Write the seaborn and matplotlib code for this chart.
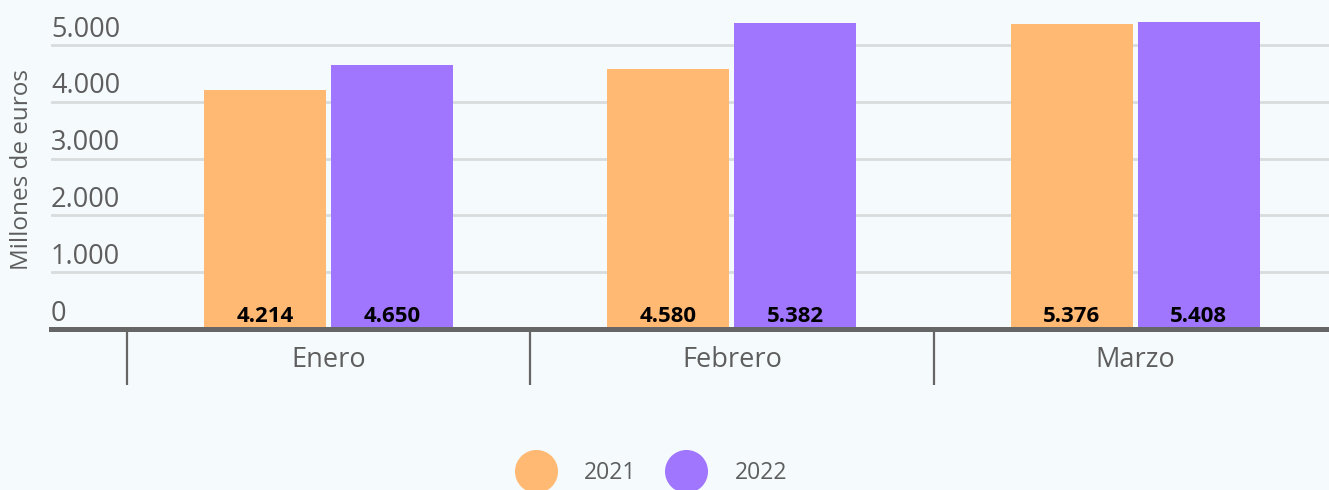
import numpy as np
import pandas as pd
import matplotlib
matplotlib.use("Agg")
import matplotlib.pyplot as plt
from matplotlib.lines import Line2D
import seaborn as sns

# data
meses = ["Enero", "Febrero", "Marzo"]
anios = ["2021", "2022"]
valores_2021 = [4214, 4580, 5376]
valores_2022 = [4650, 5382, 5408]
yticks = [0, 1000, 2000, 3000, 4000, 5000]

colores = ["#FFB973", "#A076FF"]
bg = "#F5FAFD"
gris = "#5E5E5E"


def fmt(v):
    return f"{v:,.0f}".replace(",", ".")


df = pd.DataFrame({
    "mes": meses * 2,
    "anio": [anios[0]] * 3 + [anios[1]] * 3,
    "valor": valores_2021 + valores_2022,
})

sns.set_style("white")
plt.rcParams["font.family"] = ["Open Sans", "DejaVu Sans"]

fig = plt.figure(figsize=(13.29, 4.90), dpi=100, facecolor=bg)
ax = fig.add_axes([51 / 1329, (490 - 329) / 490, 1 - 51 / 1329, 329 / 490])
ax.set_facecolor(bg)

sns.barplot(data=df, x="mes", y="valor", hue="anio", palette=colores,
            width=0.63, gap=0.04, saturation=1, linewidth=0,
            legend=False, ax=ax, zorder=3)

ax.set_xlim(-0.689, 2.481)
ax.set_ylim(0, 5792)

# gridlines and y labels
for t in yticks:
    if t > 0:
        ax.axhline(t, color="#D9DCDD", lw=2, zorder=1)
    ax.annotate(fmt(t), xy=(0, t), xycoords=("axes fraction", "data"),
                xytext=(0, 6), textcoords="offset points",
                ha="left", va="baseline", fontsize=19.5, color=gris)
ax.set_yticks([])
ax.set_ylabel("")
ax.set_xlabel("")

# bar value labels
for cont in ax.containers:
    for p in cont.patches:
        ax.annotate(fmt(p.get_height()), xy=(p.get_x() + p.get_width() / 2, 0),
                    xytext=(0, 5), textcoords="offset points",
                    ha="center", va="baseline", fontsize=16,
                    fontweight="bold", color="black", zorder=4)

for s in ["top", "right", "left"]:
    ax.spines[s].set_visible(False)
ax.spines["bottom"].set_color("#666666")
ax.spines["bottom"].set_linewidth(3.6)
ax.spines["bottom"].set_zorder(5)

ax.set_xticks(range(len(meses)))
ax.set_xticklabels(meses)
ax.set_xticks(np.arange(len(meses)) - 0.5, minor=True)
ax.tick_params(axis="x", which="major", bottom=False, length=0, pad=12,
               labelsize=19.5, labelcolor=gris)
ax.tick_params(axis="x", which="minor", bottom=True, length=40, width=1.6,
               color="#666666", direction="out")

fig.text(22 / 1329, 1 - 170 / 490, "Millones de euros", rotation=90,
         ha="center", va="center", fontsize=17.5, color=gris)

handles = [Line2D([], [], marker="o", linestyle="", markersize=31,
                  markerfacecolor=c, markeredgewidth=0) for c in colores]
fig.legend(handles, anios, loc="center", bbox_to_anchor=(0.489, 17 / 490),
           ncol=2, frameon=False, fontsize=16.5, labelcolor=gris,
           handlelength=2, handletextpad=1.1, columnspacing=1.2)

fig.savefig("out.png", dpi=100, facecolor=bg)
